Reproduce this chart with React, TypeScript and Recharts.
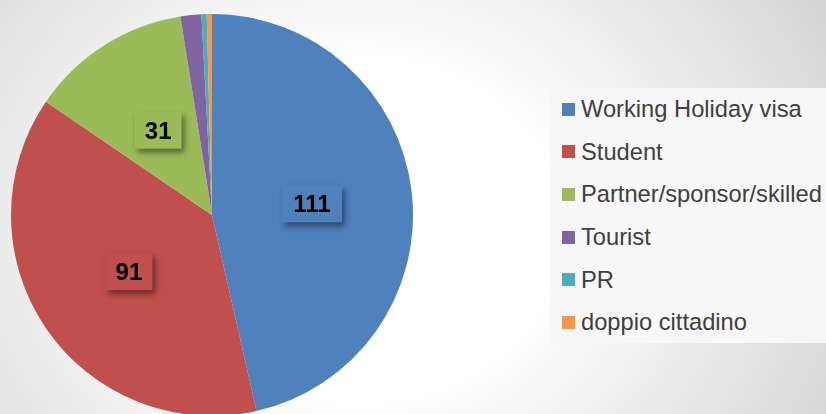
import React from 'react';
import { PieChart, Pie, Cell, Legend } from 'recharts';

const categories = ['Working Holiday visa', 'Student', 'Partner/sponsor/skilled', 'Tourist', 'PR', 'doppio cittadino'];
const values = [111, 91, 31, 4, 1, 1];
const colors = ['#4f81bd', '#c0504d', '#9bbb59', '#8064a2', '#4bacc6', '#f79646'];

const data = categories.map((name, i) => ({ name, value: values[i] }));

const FONT = '"Liberation Sans", Arial, sans-serif';
const RAD = Math.PI / 180;

const renderLabel = (props: any) => {
  const { cx, cy, midAngle, outerRadius, value, index } = props;
  if (value < 10) return null;
  const r = outerRadius * 0.5;
  const x = cx + r * Math.cos(-midAngle * RAD);
  const y = cy + r * Math.sin(-midAngle * RAD);
  const txt = String(value);
  const w = txt.length * 13.4 + 20;
  const h = 37;
  return (
    <g>
      <rect
        x={x - w / 2}
        y={y - h / 2}
        width={w}
        height={h}
        fill={colors[index]}
        style={{ filter: 'drop-shadow(3px 4px 3px rgba(0,0,0,0.45))' }}
      />
      <text
        x={x}
        y={y}
        textAnchor="middle"
        dominantBaseline="central"
        fill="#000"
        fontFamily={FONT}
        fontWeight="bold"
        fontSize={24}
      >
        {txt}
      </text>
    </g>
  );
};

const renderLegend = () => (
  <div
    style={{
      background: '#f7f7f7',
      width: 276,
      height: 255,
      boxSizing: 'border-box',
      paddingTop: 0,
      paddingLeft: 12,
    }}
  >
    {categories.map((c, i) => (
      <div key={c} style={{ display: 'flex', alignItems: 'center', height: 42.6 }}>
        <div style={{ width: 13, height: 13, background: colors[i], marginRight: 6, flexShrink: 0 }} />
        <span style={{ fontFamily: FONT, fontSize: 23.7, color: '#404040', whiteSpace: 'nowrap', lineHeight: '26px' }}>{c}</span>
      </div>
    ))}
  </div>
);

export default function App() {
  return (
    <div
      style={{
        position: 'fixed',
        left: 0,
        top: 0,
        width: 826,
        height: 414,
        overflow: 'hidden',
        background: 'radial-gradient(ellipse 560px 480px at 360px 230px, #ffffff 0%, #ffffff 35%, #d2d2d2 100%)',
      }}
    >
      <PieChart width={826} height={414} margin={{ top: 0, right: 0, bottom: 0, left: 0 }}>
        <Pie
          data={data}
          dataKey="value"
          nameKey="name"
          cx={212}
          cy={215}
          outerRadius={201}
          startAngle={90}
          endAngle={-270}
          stroke="none"
          label={renderLabel}
          labelLine={false}
          isAnimationActive={false}
        >
          {data.map((d, i) => (
            <Cell key={d.name} fill={colors[i]} />
          ))}
        </Pie>
        <Legend
          content={renderLegend}
          wrapperStyle={{ position: 'absolute', left: 550, top: 88, width: 276, height: 255 }}
        />
      </PieChart>
    </div>
  );
}
